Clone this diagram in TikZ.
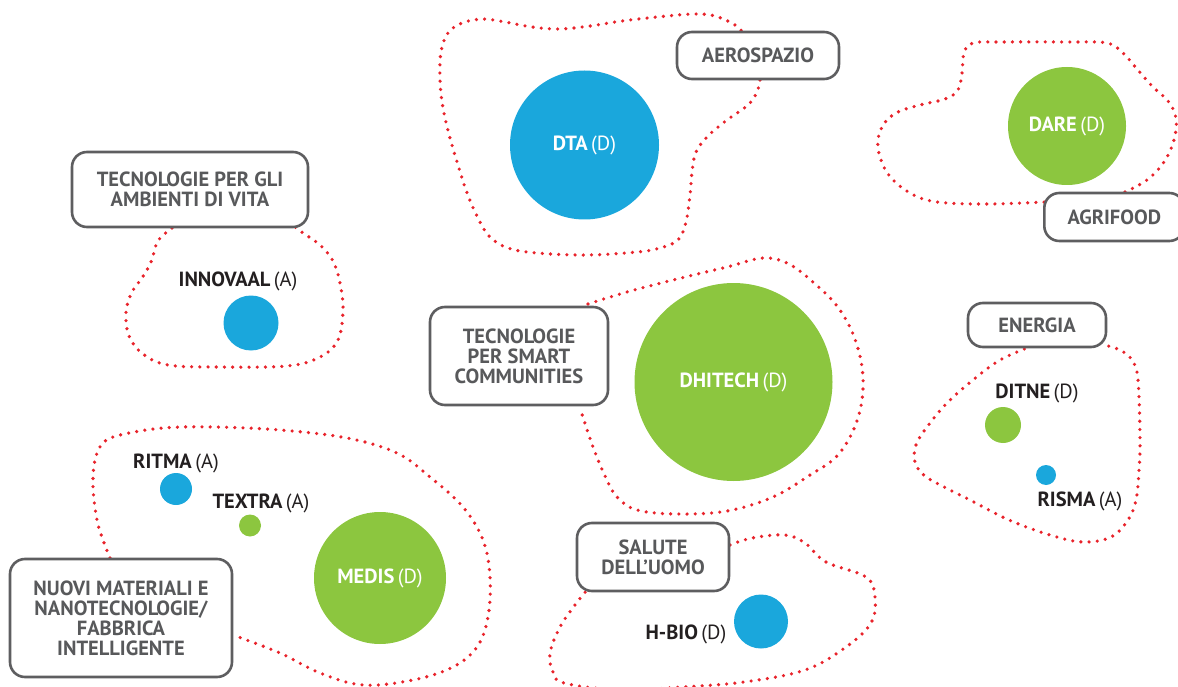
\documentclass[tikz,border=0pt]{standalone}
\usepackage{fontspec}
\setmainfont{PT Sans}
\definecolor{tblue}{HTML}{1AA7DC}
\definecolor{tgreen}{HTML}{8CC63F}
\definecolor{boxline}{HTML}{5E5E60}
\definecolor{boxtext}{HTML}{58595B}
\definecolor{dotred}{HTML}{E8232B}
\definecolor{lblcol}{HTML}{231F20}
\begin{document}
\begin{tikzpicture}[x=1pt,y=-1pt,
  lbox/.style={draw=boxline, fill=white, line width=2.6pt, rounded corners=15pt, text=boxtext,
    font=\fontsize{20.5}{20}\selectfont\bfseries, align=center, inner sep=0pt},
  blob/.style={draw=dotred, line width=3.6pt, line cap=round, dash pattern=on 0pt off 8.2pt},
  bubble/.style={circle, inner sep=0pt},
  bluebub/.style={bubble, fill=tblue},
  greenbub/.style={bubble, fill=tgreen},
  nlabel/.style={text=lblcol, font=\fontsize{20.5}{20}\selectfont, inner sep=0pt},
  inlabel/.style={text=white, font=\fontsize{20.5}{20}\selectfont, inner sep=0pt}]
\useasboundingbox (0,0) rectangle (1178,687);
\clip (0,0) rectangle (1178,687);

% ---- dotted regions ----
\draw[blob] plot[smooth, tension=0.6] coordinates {(760,80) (757,92) (748,105) (727,120) (708,136) (696,152) (692,172) (690,195) (686,222) (678,240) (660,248) (637,252) (587,255) (537,253) (508,248) (489,236) (476,214) (466,190) (458,165) (450,138) (443,108) (440,80) (441,52) (448,33) (462,23) (483,19) (505,22) (532,27) (560,29) (590,26) (622,21) (667,16) (695,14) (715,16) (735,25) (745,35)};

\draw[blob] plot[smooth, tension=0.6] coordinates {(1125,192) (1147,180) (1164,162) (1174,140) (1176,118) (1168,101) (1153,87) (1137,69) (1123,53) (1107,43) (1070,42) (1003,42) (973,43) (964,53) (962,73) (958,90) (945,99) (920,105) (896,113) (882,127) (878,148) (888,174) (910,193) (937,202) (987,204) (1045,202)};

\draw[blob] plot[smooth, tension=0.6] coordinates {(172,228) (158,241) (151,262) (142,278) (132,292) (126,312) (129,336) (143,354) (168,365) (217,367) (287,366) (320,357) (338,340) (343,310) (340,283) (333,261) (320,245) (303,233) (295,227)};

\draw[blob] plot[smooth, tension=0.6] coordinates {(588,304) (627,292) (677,279) (727,267) (763,258) (789,264) (814,283) (837,306) (853,334) (862,367) (862,400) (853,431) (836,457) (810,475) (773,497) (727,511) (677,514) (637,510) (617,497) (606,478) (593,447) (580,408)};

\draw[blob] plot[smooth, tension=0.6] coordinates {(1032,346) (1000,360) (973,380) (947,403) (927,427) (916,445) (915,462) (925,476) (950,490) (970,500) (1009,520) (1050,535) (1083,542) (1111,537) (1128,520) (1136,500) (1139,470) (1140,440) (1138,380) (1132,360) (1120,350) (1104,345)};

\draw[blob] plot[smooth, tension=0.6] coordinates {(730,545) (752,538) (785,535) (805,543) (826,562) (866,577) (875,597) (871,623) (846,647) (805,670) (744,682) (683,687) (620,690) (564,683) (553,672) (550,653) (560,627) (575,605) (587,590)};

\draw[blob] plot[smooth, tension=0.6] coordinates {(110,558) (103,540) (97,520) (93,487) (95,460) (103,443) (120,435) (163,428) (213,427) (280,430) (347,438) (397,453) (430,477) (463,507) (483,540) (490,577) (488,617) (477,647) (453,667) (413,680) (363,685) (320,673) (280,653) (233,635)};

% ---- label boxes ----
\node[lbox, minimum width=236pt, minimum height=75pt] (bamb) at (190,189.5) {TECNOLOGIE PER GLI\\AMBIENTI DI VITA};
\node[lbox, minimum width=162pt, minimum height=47pt] (baero) at (758,55.5) {AEROSPAZIO};
\node[lbox, minimum width=140pt, minimum height=48pt, anchor=west] (bagri) at (1043,217) {AGRIFOOD};
\node[lbox, minimum width=178pt, minimum height=98pt] (bsmart) at (519,356) {TECNOLOGIE\\PER SMART\\COMMUNITIES};
\node[lbox, minimum width=138pt, minimum height=44pt] (bene) at (1037,325) {ENERGIA};
\node[lbox, minimum width=152pt, minimum height=68pt] (bsal) at (653,557) {SALUTE\\DELL’UOMO};
\node[lbox, minimum width=222pt, minimum height=118pt] (bmat) at (121,618) {NUOVI MATERIALI E\\NANOTECNOLOGIE/\\FABBRICA\\INTELLIGENTE};

% ---- bubbles ----
\node[bluebub, minimum size=149pt] (dta) at (584.5,145) {};
\node[inlabel] (ldta) at (dta.center) {\bfseries DTA\,\mdseries(D)};
\node[greenbub, minimum size=118pt] (dare) at (1067,126) {};
\node[inlabel] (ldare) at (dare.center) {\bfseries DARE\,\mdseries(D)};
\node[bluebub, minimum size=55pt] (innovaal) at (251,323) {};
\node[nlabel, anchor=base] (linnovaal) at (238,287) {\bfseries INNOVAAL\,\mdseries(A)};
\node[greenbub, minimum size=198pt] (dhitech) at (733.5,382) {};
\node[inlabel] (ldhitech) at (dhitech.center) {\bfseries DHITECH\,\mdseries(D)};
\node[greenbub, minimum size=36pt] (ditne) at (1003,425) {};
\node[nlabel, anchor=base] (lditne) at (1037,398) {\bfseries DITNE\,\mdseries(D)};
\node[bluebub, minimum size=20pt] (risma) at (1046,475) {};
\node[nlabel, anchor=base] (lrisma) at (1080,506) {\bfseries RISMA\,\mdseries(A)};
\node[bluebub, minimum size=32pt] (ritma) at (176,489) {};
\node[nlabel, anchor=base] (lritma) at (176,468) {\bfseries RITMA\,\mdseries(A)};
\node[greenbub, minimum size=22pt] (textra) at (250,525.5) {};
\node[nlabel, anchor=base] (ltextra) at (261,508) {\bfseries TEXTRA\,\mdseries(A)};
\node[greenbub, minimum size=132pt] (medis) at (380,578) {};
\node[inlabel] (lmedis) at (medis.center) {\bfseries MEDIS\,\mdseries(D)};
\node[bluebub, minimum size=54pt] (hbio) at (761,621.5) {};
\node[nlabel, anchor=base] (lhbio) at (686,639) {\bfseries H-BIO\,\mdseries(D)};
\end{tikzpicture}
\end{document}
